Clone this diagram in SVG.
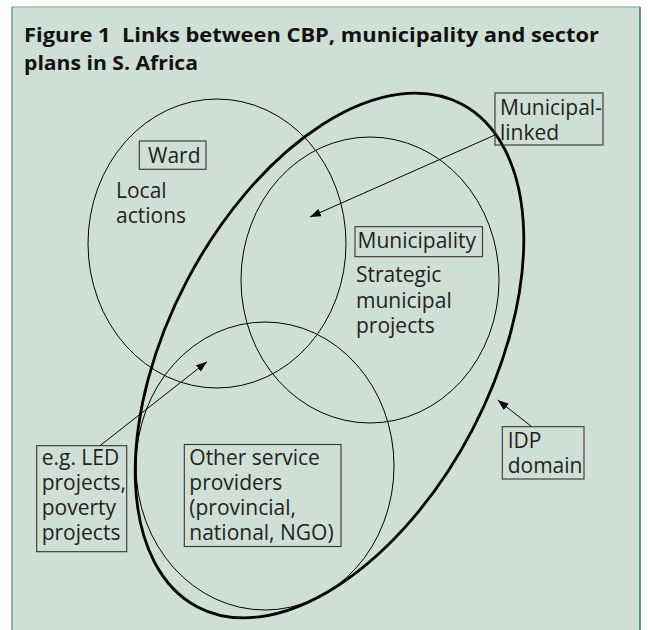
<svg xmlns="http://www.w3.org/2000/svg" width="648" height="630" viewBox="0 0 648 630">
<defs>
<marker id="arr" markerUnits="userSpaceOnUse" markerWidth="11" markerHeight="8" refX="11" refY="4" orient="auto">
<path d="M0,0 L11,4 L0,8 z" fill="#000"/>
</marker>
<style>
.t{font-family:"Open Sans","Liberation Sans",sans-serif;font-size:21px;fill:#222}
.title{font-family:"Open Sans","Liberation Sans",sans-serif;font-size:20px;font-weight:bold;fill:#111}
.c{fill:none;stroke:#000;stroke-width:1}
.b{fill:none;stroke:#333;stroke-width:1.1}
.l{fill:none;stroke:#000;stroke-width:1;marker-end:url(#arr)}
</style>
</defs>
<rect x="0" y="0" width="648" height="630" fill="#fff"/>
<rect x="12" y="7" width="628" height="630" fill="#d0dfd6"/>
<line x1="12" y1="7" x2="640" y2="7" stroke="#9cbcad" stroke-width="1.5"/>
<line x1="12" y1="7" x2="12" y2="630" stroke="#6a9f88" stroke-width="1.5"/>
<line x1="640" y1="7" x2="640" y2="630" stroke="#1f7a55" stroke-width="1.5"/>
<g id="title">
<text class="title" x="24" y="42" textLength="575" lengthAdjust="spacingAndGlyphs">Figure 1&#160; Links between CBP, municipality and sector</text>
<text class="title" x="24" y="70" textLength="174" lengthAdjust="spacingAndGlyphs">plans in S. Africa</text>
</g>
<g id="ward">
<ellipse class="c" cx="217" cy="243.5" rx="129" ry="144.5"/>
<rect class="b" x="139.3" y="141" width="66.7" height="28.3"/>
<text class="t" x="148" y="162.7">Ward</text>
<text class="t" x="116" y="198">Local</text>
<text class="t" x="116" y="223">actions</text>
</g>
<g id="municipality">
<ellipse class="c" cx="370" cy="280" rx="129" ry="143"/>
<rect class="b" x="355" y="226.7" width="127.5" height="30"/>
<text class="t" x="357.5" y="248.3">Municipality</text>
<text class="t" x="356" y="281.7">Strategic</text>
<text class="t" x="356" y="308">municipal</text>
<text class="t" x="356" y="333.3">projects</text>
</g>
<g id="other-providers">
<ellipse class="c" cx="265" cy="466" rx="129" ry="144"/>
<rect class="b" x="184.3" y="444.5" width="156.7" height="102"/>
<text class="t" x="189.3" y="465">Other service</text>
<text class="t" x="189.3" y="490">providers</text>
<text class="t" x="189.3" y="515">(provincial,</text>
<text class="t" x="189.3" y="540">national, NGO)</text>
</g>
<g id="idp-domain">
<ellipse cx="329.5" cy="355.5" rx="284" ry="161" transform="rotate(-62.3 329.5 355.5)" fill="none" stroke="#000" stroke-width="2.8"/>
<rect class="b" x="502.3" y="426.7" width="81.7" height="52.3"/>
<text class="t" x="507.7" y="447.7">IDP</text>
<text class="t" x="507.7" y="473.3">domain</text>
</g>
<g id="municipal-linked">
<rect class="b" x="495" y="93" width="108" height="52"/>
<text class="t" x="500" y="114.5">Municipal-</text>
<text class="t" x="500" y="139.5">linked</text>
</g>
<g id="eg-led">
<rect class="b" x="36.7" y="445.7" width="90" height="106"/>
<text class="t" x="41.7" y="465">e.g. LED</text>
<text class="t" x="41.7" y="490">projects,</text>
<text class="t" x="41.7" y="515">poverty</text>
<text class="t" x="41.7" y="540">projects</text>
</g>
<g id="connectors">
<line class="l" x1="495" y1="135" x2="310" y2="217"/>
<line class="l" x1="100" y1="445.7" x2="207" y2="361.7"/>
<line class="l" x1="531.7" y1="426.7" x2="497.7" y2="400"/>
</g>
</svg>
